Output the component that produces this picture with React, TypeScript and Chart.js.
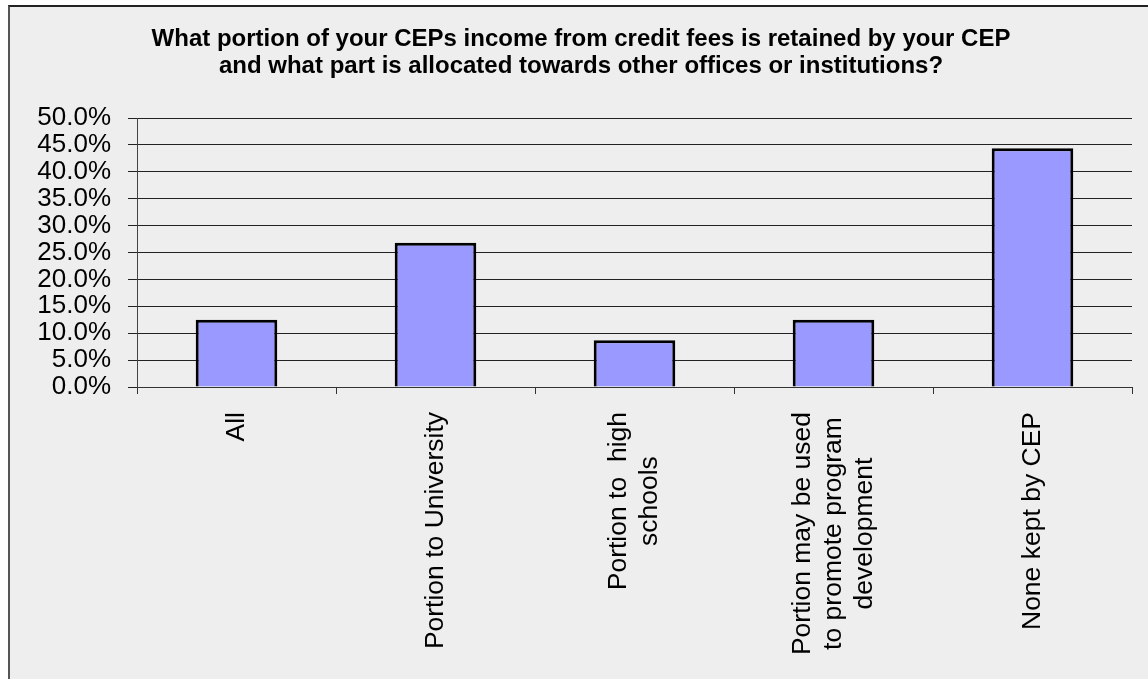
import React, { useEffect, useRef } from "react";
import { Chart, registerables } from "chart.js";

Chart.register(...registerables);

const titleLines = [
  "What portion of your CEPs income from credit fees is retained by your CEP",
  "and what part is allocated towards other offices or institutions?",
];
const categories: string[][] = [
  ["All"],
  ["Portion to University"],
  ["Portion to  high", "schools"],
  ["Portion may be used", "to promote program", "development"],
  ["None kept by CEP"],
];
const values = [12.5, 26.8, 8.7, 12.5, 44.4];
const yMin = 0;
const yMax = 50;
const yStep = 5;

const FONT = "'Liberation Sans', Arial, sans-serif";

export default function App() {
  const ref = useRef<HTMLCanvasElement | null>(null);

  useEffect(() => {
    if (!ref.current) return;
    const labelPlugin = {
      id: "customText",
      afterDraw(chart: any) {
        const ctx = chart.ctx as CanvasRenderingContext2D;
        const xs = chart.scales.x;
        ctx.save();
        // title
        ctx.fillStyle = "#000";
        ctx.font = `bold 24px ${FONT}`;
        ctx.textAlign = "center";
        ctx.textBaseline = "middle";
        titleLines.forEach((t, i) => {
          ctx.fillText(t, chart.width / 2 + 2, 32 + i * 27);
        });
        // x labels
        ctx.font = `26.5px ${FONT}`;
        const lh = 31;
        categories.forEach((lines, i) => {
          const x = xs.getPixelForValue(i);
          const maxW = Math.max(...lines.map((l) => ctx.measureText(l).width));
          const cy = xs.top + 25 + maxW / 2;
          ctx.save();
          ctx.translate(x, cy);
          ctx.rotate(-Math.PI / 2);
          ctx.textAlign = "center";
          ctx.textBaseline = "middle";
          lines.forEach((l, j) => {
            ctx.fillText(l, 0, (j - (lines.length - 1) / 2) * lh);
          });
          ctx.restore();
        });
        ctx.restore();
      },
    };

    const chart = new Chart(ref.current, {
      type: "bar",
      data: {
        labels: categories,
        datasets: [
          {
            data: values,
            backgroundColor: "#9999FF",
            borderColor: "#000000",
            borderWidth: 3,
            categoryPercentage: 1,
            barPercentage: 0.41,
          },
        ],
      },
      options: {
        animation: false,
        responsive: false,
        maintainAspectRatio: false,
        layout: { padding: { top: 111, left: 0, right: 16, bottom: 0 } },
        plugins: {
          legend: { display: false },
          tooltip: { enabled: false },
          title: { display: false },
        },
        scales: {
          x: {
            offset: true,
            ticks: { display: false },
            grid: {
              display: true,
              offset: true,
              drawOnChartArea: false,
              drawTicks: true,
              tickLength: 7,
              color: "#333",
            },
            border: { display: true, color: "#333", width: 1 },
            afterFit: (s: any) => {
              s.height = 292;
            },
          },
          y: {
            min: yMin,
            max: yMax,
            ticks: {
              stepSize: yStep,
              autoSkip: false,
              padding: 17,
              color: "#000",
              font: { family: FONT, size: 26, lineHeight: 1 },
              callback: (v: any) => Number(v).toFixed(1) + "%",
            },
            grid: {
              color: "#222",
              tickLength: 9,
              drawTicks: true,
            },
            border: { display: true, color: "#444", width: 1 },
            afterFit: (s: any) => {
              s.width = 127;
            },
          },
        },
      },
      plugins: [labelPlugin],
    });
    return () => chart.destroy();
  }, []);

  return (
    <div
      style={{
        position: "absolute",
        left: 0,
        top: 0,
        width: 1148,
        height: 679,
        background: "#fff",
        overflow: "hidden",
      }}
    >
      <div
        style={{
          position: "absolute",
          left: 8,
          top: 5,
          width: 1140,
          height: 674,
          boxSizing: "border-box",
          borderLeft: "2px solid #555",
          borderTop: "2px solid #222",
          background: "#EEEEEE",
        }}
      >
        <canvas ref={ref} width={1138} height={672} style={{ display: "block" }} />
      </div>
    </div>
  );
}
